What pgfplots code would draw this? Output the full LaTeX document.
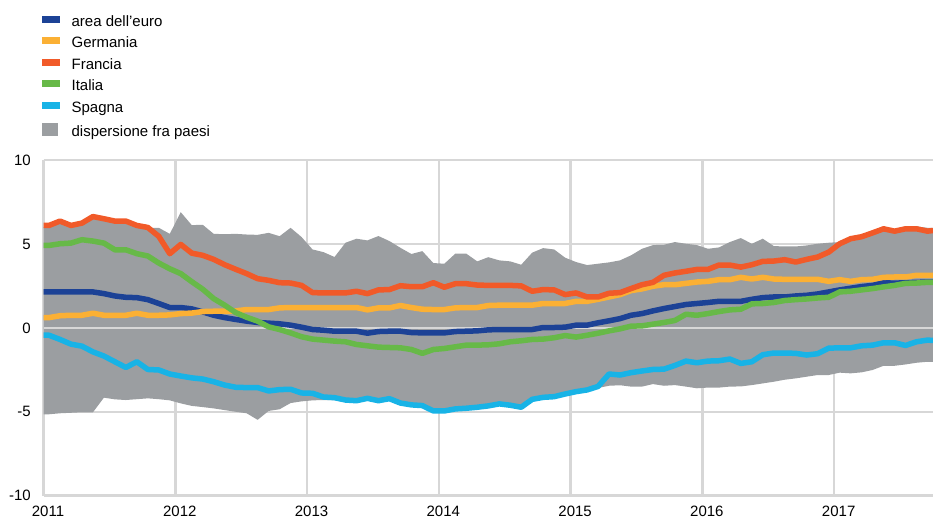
\documentclass[border=0pt]{standalone}
\usepackage{fontspec}
\setmainfont{Liberation Sans}
\usepackage{pgfplots}
\usepackage{pgfplotstable}
\pgfplotsset{compat=1.18}
\usepgfplotslibrary{fillbetween}
\definecolor{eublue}{RGB}{28,66,150}
\definecolor{deyel}{RGB}{251,176,52}
\definecolor{frred}{RGB}{241,90,41}
\definecolor{itgreen}{RGB}{103,185,72}
\definecolor{escyan}{RGB}{24,179,230}
\definecolor{areagray}{RGB}{155,158,161}
\definecolor{gridgray}{RGB}{215,215,215}

\pgfplotstableread{
x eu de fr it es lo hi
0 2.14 0.61 6.10 4.91 -0.44 -5.15 6.00
0.5 2.14 0.61 6.10 4.91 -0.44 -5.15 6.00
1.5 2.14 0.72 6.36 5.01 -0.69 -5.09 6.25
2.5 2.14 0.75 6.10 5.05 -0.97 -5.06 6.02
3.5 2.14 0.75 6.24 5.25 -1.09 -5.03 6.15
4.5 2.14 0.87 6.63 5.17 -1.43 -5.03 6.50
5.5 2.04 0.75 6.50 5.05 -1.68 -4.16 6.40
6.5 1.90 0.75 6.36 4.65 -2.02 -4.26 6.25
7.5 1.82 0.75 6.36 4.65 -2.36 -4.30 6.20
8.5 1.80 0.87 6.10 4.42 -2.02 -4.25 6.00
9.5 1.68 0.75 5.98 4.28 -2.48 -4.20 5.95
10.5 1.45 0.75 5.45 3.86 -2.51 -4.25 5.96
11.5 1.21 0.77 4.42 3.52 -2.75 -4.32 5.60
12.5 1.21 0.85 4.97 3.23 -2.87 -4.50 6.89
13.5 1.13 0.88 4.45 2.75 -2.98 -4.65 6.12
14.5 0.95 0.97 4.32 2.30 -3.05 -4.72 6.14
15.5 0.75 0.99 4.08 1.74 -3.21 -4.80 5.60
16.5 0.61 0.99 3.76 1.35 -3.41 -4.90 5.58
17.5 0.50 1.01 3.49 0.91 -3.54 -5.00 5.60
18.5 0.40 1.09 3.23 0.63 -3.56 -5.09 5.56
19.5 0.32 1.09 2.93 0.40 -3.56 -5.48 5.54
20.5 0.28 1.09 2.83 0.06 -3.76 -4.95 5.66
21.5 0.24 1.19 2.69 -0.10 -3.68 -4.85 5.46
22.5 0.16 1.21 2.67 -0.30 -3.66 -4.48 5.96
23.5 0.04 1.21 2.53 -0.53 -3.88 -4.38 5.41
24.5 -0.10 1.21 2.10 -0.67 -3.90 -4.32 4.67
25.5 -0.14 1.21 2.08 -0.73 -4.12 -4.30 4.51
26.5 -0.20 1.21 2.08 -0.79 -4.16 -4.30 4.22
27.5 -0.20 1.21 2.08 -0.83 -4.30 -4.34 5.07
28.5 -0.20 1.21 2.18 -0.99 -4.34 -4.38 5.31
29.5 -0.32 1.07 2.04 -1.07 -4.20 -4.30 5.21
30.5 -0.22 1.19 2.26 -1.15 -4.34 -4.38 5.47
31.5 -0.20 1.19 2.28 -1.17 -4.22 -4.30 5.17
32.5 -0.20 1.33 2.51 -1.19 -4.48 -4.52 4.77
33.5 -0.28 1.21 2.45 -1.29 -4.59 -4.63 4.40
34.5 -0.30 1.11 2.45 -1.52 -4.63 -4.67 4.57
35.5 -0.30 1.09 2.69 -1.29 -4.95 -4.99 3.86
36.5 -0.30 1.09 2.42 -1.23 -4.95 -4.99 3.82
37.5 -0.22 1.19 2.63 -1.13 -4.83 -4.87 4.42
38.5 -0.20 1.21 2.63 -1.03 -4.79 -4.83 4.42
39.5 -0.18 1.21 2.55 -1.03 -4.73 -4.77 3.96
40.5 -0.12 1.33 2.53 -1.01 -4.65 -4.70 4.21
41.5 -0.10 1.35 2.53 -0.95 -4.53 -4.58 4.02
42.5 -0.10 1.35 2.53 -0.83 -4.61 -4.66 3.96
43.5 -0.10 1.35 2.50 -0.77 -4.73 -4.78 3.76
44.5 -0.10 1.35 2.18 -0.69 -4.26 -4.30 4.48
45.5 0.02 1.45 2.28 -0.67 -4.14 -4.18 4.75
46.5 0.02 1.45 2.26 -0.59 -4.10 -4.14 4.67
47.5 0.04 1.45 1.98 -0.46 -3.94 -3.98 4.18
48.5 0.16 1.58 2.08 -0.55 -3.80 -3.84 3.92
49.5 0.16 1.58 1.84 -0.44 -3.70 -3.74 3.74
50.5 0.30 1.70 1.84 -0.32 -3.49 -3.58 3.82
51.5 0.42 1.84 2.06 -0.18 -2.75 -3.45 3.90
52.5 0.55 1.98 2.10 -0.06 -2.81 -3.42 4.02
53.5 0.75 2.22 2.34 0.10 -2.67 -3.50 4.32
54.5 0.85 2.32 2.57 0.12 -2.57 -3.50 4.71
55.5 1.01 2.48 2.71 0.22 -2.48 -3.35 4.93
56.5 1.15 2.57 3.13 0.32 -2.46 -3.45 4.95
57.5 1.27 2.57 3.27 0.44 -2.24 -3.41 5.11
58.5 1.39 2.65 3.37 0.81 -1.98 -3.50 5.01
59.5 1.45 2.73 3.48 0.75 -2.08 -3.60 4.93
60.5 1.51 2.77 3.48 0.85 -1.98 -3.56 4.71
61.5 1.58 2.87 3.74 0.97 -1.96 -3.56 4.79
62.5 1.58 2.87 3.74 1.07 -1.86 -3.50 5.11
63.5 1.58 3.01 3.62 1.11 -2.12 -3.49 5.35
64.5 1.70 2.91 3.76 1.43 -2.02 -3.41 5.01
65.5 1.80 3.01 3.96 1.45 -1.60 -3.31 5.31
66.5 1.84 2.91 3.98 1.51 -1.50 -3.21 4.87
67.5 1.84 2.89 4.06 1.63 -1.50 -3.09 4.85
68.5 1.90 2.89 3.92 1.68 -1.52 -3.01 4.85
69.5 1.94 2.89 4.08 1.72 -1.62 -2.91 4.91
70.5 2.02 2.89 4.22 1.78 -1.54 -2.81 5.01
71.5 2.14 2.77 4.51 1.82 -1.21 -2.81 5.07
72.5 2.26 2.87 5.01 2.14 -1.19 -2.67 5.11
73.5 2.36 2.77 5.31 2.18 -1.19 -2.71 5.37
74.5 2.46 2.87 5.43 2.26 -1.07 -2.65 5.50
75.5 2.53 2.89 5.66 2.34 -1.03 -2.51 5.74
76.5 2.69 3.01 5.90 2.44 -0.89 -2.26 5.96
77.5 2.66 3.03 5.76 2.53 -0.89 -2.26 5.90
78.5 2.69 3.03 5.90 2.65 -1.05 -2.18 6.00
79.5 2.71 3.13 5.90 2.67 -0.83 -2.08 6.04
80.5 2.73 3.13 5.76 2.71 -0.73 -2.02 5.96
81 2.73 3.13 5.80 2.71 -0.75 -2.02 5.96
}\data

\begin{document}
\begin{tikzpicture}
\begin{axis}[
  at={(43.5pt,23.3pt)}, anchor=south west,
  scale only axis, width=889.5pt, height=335.7pt,
  xmin=0, xmax=81, ymin=-10, ymax=10,
  axis line style={draw=none}, tick style={draw=none},
  xtick={0,12,24,36,48,60,72},
  xticklabels={2011,2012,2013,2014,2015,2016,2017},
  ytick={-10,-5,0,5,10},
  yticklabels={-10,-5,0,5,10},
  grid=major,
  major grid style={draw=gridgray, line width=2.5pt},
  tick label style={font=\fontsize{15}{18}\selectfont, inner sep=0pt},
  yticklabel style={anchor=east, xshift=-12.5pt},
  xticklabel style={anchor=north, yshift=-10pt, xshift=4.5pt},
  legend style={at={(-0.0017,1.432)}, anchor=north west, draw=none, fill=none,
    inner sep=0pt, row sep=7pt,
    font=\fontsize{15}{18}\selectfont,
    nodes={inner sep=0pt, text height=11pt, text depth=3.5pt},
    cells={anchor=west}},
]
\addlegendimage{eublue, legend image code/.code={\fill (0pt,0.5pt) rectangle (17pt,6.5pt); \path (29pt,0pt);}}
\addlegendentry{area dell’euro}
\addlegendimage{deyel, legend image code/.code={\fill (0pt,0.5pt) rectangle (17pt,6.5pt); \path (29pt,0pt);}}
\addlegendentry{Germania}
\addlegendimage{frred, legend image code/.code={\fill (0pt,0.5pt) rectangle (17pt,6.5pt); \path (29pt,0pt);}}
\addlegendentry{Francia}
\addlegendimage{itgreen, legend image code/.code={\fill (0pt,0.5pt) rectangle (17pt,6.5pt); \path (29pt,0pt);}}
\addlegendentry{Italia}
\addlegendimage{escyan, legend image code/.code={\fill (0pt,0.5pt) rectangle (17pt,6.5pt); \path (29pt,0pt);}}
\addlegendentry{Spagna}
\addlegendimage{areagray, legend image code/.code={\fill (0pt,-2.5pt) rectangle (15pt,9.5pt); \path (29pt,0pt);}}
\addlegendentry{dispersione fra paesi}

\addplot[draw=none, name path=hi, forget plot] table[x=x, y=hi]{\data};
\addplot[draw=none, name path=lo, forget plot] table[x=x, y=lo]{\data};
\addplot[areagray, forget plot] fill between[of=hi and lo];
\draw[gridgray, line width=2.5pt] (axis cs:0,0) -- (axis cs:81,0);
\addplot[eublue, line width=5.5pt, line join=round, forget plot] table[x=x, y=eu]{\data};
\addplot[deyel, line width=5.5pt, line join=round, forget plot] table[x=x, y=de]{\data};
\addplot[frred, line width=5.5pt, line join=round, forget plot] table[x=x, y=fr]{\data};
\addplot[itgreen, line width=5.5pt, line join=round, forget plot] table[x=x, y=it]{\data};
\addplot[escyan, line width=5.5pt, line join=round, forget plot] table[x=x, y=es]{\data};
\end{axis}
\pgfresetboundingbox
\path[use as bounding box] (0pt,0pt) rectangle (933pt,519pt);
\end{tikzpicture}
\end{document}
